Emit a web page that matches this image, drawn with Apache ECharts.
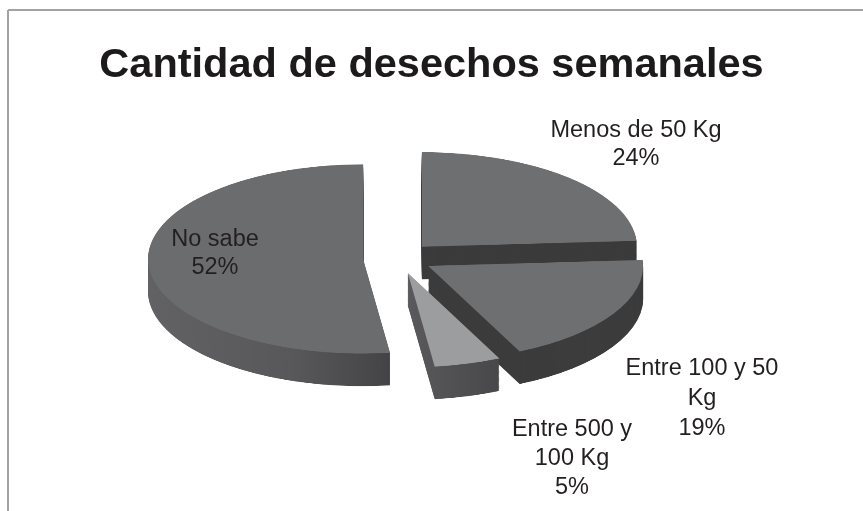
<!DOCTYPE html>
<html><head><meta charset="utf-8">
<script src="https://cdn.jsdelivr.net/npm/echarts@6/dist/echarts.min.js"></script>
<style>
html,body{margin:0;padding:0;background:#fff;}
#wrap{position:relative;width:863px;height:511px;overflow:hidden;background:#fff;}
#pie{position:absolute;left:0;top:0;width:863px;height:1162px;transform:scaleY(0.44);transform-origin:0 0;}
#txt{position:absolute;left:0;top:0;width:863px;height:511px;}
</style></head><body>
<div id="wrap"><div id="pie"></div><div id="txt"></div></div>
<script>
// ---- data ----
const titleText = 'Cantidad de desechos semanales';
const categories = ['Menos de 50 Kg', 'Entre 100 y 50 Kg', 'Entre 500 y 100 Kg', 'No sabe'];
const values = [24, 19, 5, 52];
const labelLines = [['Menos de 50 Kg'], ['Entre 100 y 50', 'Kg'], ['Entre 500 y', '100 Kg'], ['No sabe']];

// ---- styles ----
const topColors = ['#6e6f71', '#6e6f71', '#9c9d9f', '#6b6c6e'];
const sideColors = [
  '#3b3b3b',
  '#3c3c3c',
  {type:'linear',x:0,y:0,x2:1,y2:0,colorStops:[{offset:0,color:'#5a5a5c'},{offset:1,color:'#48484a'}]},
  {type:'linear',x:0,y:0,x2:1,y2:0,colorStops:[{offset:0,color:'#626264'},{offset:0.6,color:'#58585a'},{offset:1,color:'#444446'}]}
];
const SQ = 0.44;
const CX = 398, CY = 258 / SQ, R = 215, OFF = 35;
const THICK = 74, STEP = 2;

function pieData(colors) {
  return categories.map((c, i) => ({
    name: c, value: values[i], selected: true,
    itemStyle: { color: colors[i], borderWidth: 0 }
  }));
}
function pieSeries(dy, colors, z) {
  return {
    type: 'pie', center: [CX, CY + dy], radius: R,
    startAngle: 90, clockwise: true,
    selectedMode: 'multiple', selectedOffset: OFF,
    select: { itemStyle: { borderWidth: 0 } },
    label: { show: false }, labelLine: { show: false },
    emphasis: { disabled: true, scale: false },
    silent: true, animation: false, z: z,
    data: pieData(colors)
  };
}
const series = [];
const N = Math.round(THICK / STEP);
for (let k = N; k >= 1; k--) series.push(pieSeries(k * STEP, sideColors, N - k + 1));
series.push(pieSeries(0, topColors, N + 5));

const pie = echarts.init(document.getElementById('pie'), null, { renderer: 'canvas' });
pie.setOption({ animation: false, series: series });

// ---- text layer ----
const total = values.reduce((a, b) => a + b, 0);
const labelPos = [
  { x: 636, y: 117, lh: 28 },
  { x: 702, y: 354, lh: 30 },
  { x: 572, y: 415, lh: 29 },
  { x: 215, y: 226, lh: 28 }
];
const labelGraphics = categories.map((c, i) => ({
  type: 'text', x: labelPos[i].x, y: labelPos[i].y, z: 10,
  style: {
    text: labelLines[i].concat([Math.round(values[i] / total * 100) + '%']).join('\n'),
    fill: '#231f20', font: '23.5px "Liberation Sans", Arial, sans-serif',
    textAlign: 'center', textVerticalAlign: 'top', lineHeight: labelPos[i].lh
  }
}));
const txt = echarts.init(document.getElementById('txt'), null, { renderer: 'canvas' });
txt.setOption({
  animation: false,
  title: {
    text: titleText, left: 'center', top: 40,
    textStyle: { fontSize: 41.5, fontWeight: 'bold', color: '#1c1a1b', fontFamily: '"Liberation Sans", Arial, sans-serif' }
  },
  graphic: [
    { type: 'line', shape: { x1: 8, y1: 10, x2: 863, y2: 10 }, style: { stroke: '#a3a3a3', lineWidth: 2 } },
    { type: 'line', shape: { x1: 8, y1: 10, x2: 8, y2: 511 }, style: { stroke: '#a3a3a3', lineWidth: 2 } }
  ].concat(labelGraphics)
});
</script>
</body></html>
